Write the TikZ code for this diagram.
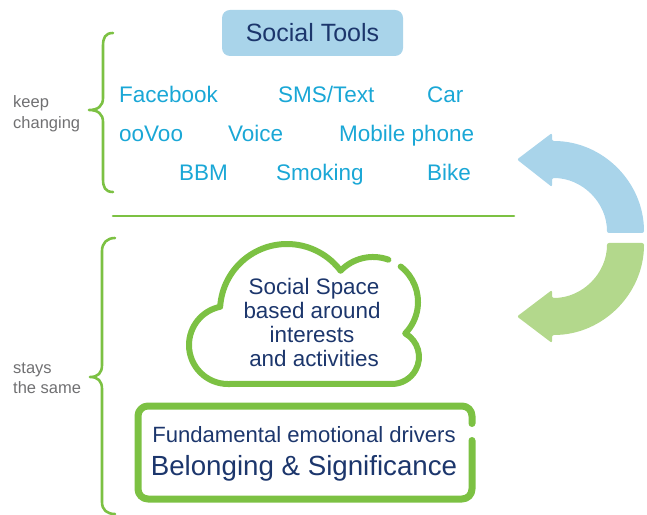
\documentclass[tikz,border=0pt]{standalone}
\usepackage{fontspec}
\setmainfont{Liberation Sans}
\definecolor{navyT}{RGB}{28,54,108}
\definecolor{cyanT}{RGB}{26,167,214}
\definecolor{grayT}{RGB}{112,112,114}
\definecolor{greenL}{RGB}{124,193,67}
\definecolor{lblue}{RGB}{169,212,234}
\definecolor{lgreen}{RGB}{179,216,140}
\begin{document}
\begin{tikzpicture}[x=1pt,y=1pt,
  tool/.style={anchor=base west,inner sep=0pt,text=cyanT,font=\fontsize{22.5}{27}\selectfont},
  side/.style={anchor=base west,inner sep=0pt,text=grayT,font=\fontsize{16.5}{20}\selectfont},
  navytext/.style={anchor=base,inner sep=0pt,text=navyT},
  greenline/.style={draw=greenL,line width=2.6pt,line cap=round,line join=round},
  shapeline/.style={draw=greenL,line cap=round,line join=round}]
\useasboundingbox (0,0) rectangle (647,514);
% title box
\node[fill=lblue,rounded corners=8pt,minimum width=181pt,minimum height=46pt,inner sep=0pt,
  text=navyT,font=\fontsize{25}{30}\selectfont] (tools) at (312.5,481) {Social Tools};
% tools
\node[tool] (fb) at (119,411) {Facebook};
\node[tool] (sms) at (278,411) {SMS/Text};
\node[tool] (car) at (427,411) {Car};
\node[tool] (oovoo) at (119,372) {ooVoo};
\node[tool] (voice) at (228,372) {Voice};
\node[tool] (mob) at (339,372) {Mobile phone};
\node[tool] (bbm) at (179,333) {BBM};
\node[tool] (smok) at (276,333) {Smoking};
\node[tool] (bike) at (427,333) {Bike};
% side labels
\node[side] (keep1) at (13,406) {keep};
\node[side] (keep2) at (13,385) {changing};
\node[side] (stay1) at (13,141) {stays};
\node[side] (stay2) at (13,121) {the same};
% braces
\draw[greenline] (113,481) .. controls (105,481) and (103,476) .. (103,468) -- (103,416)
  .. controls (103,408) and (98,404) .. (89,404) .. controls (98,404) and (103,400) .. (103,392)
  -- (103,335) .. controls (103,327) and (105,322) .. (113,322);
\draw[greenline] (115,276) .. controls (107,276) and (102,271) .. (102,263) -- (102,149)
  .. controls (102,141) and (98,137) .. (90,137) .. controls (98,137) and (102,133) .. (102,125)
  -- (102,12) .. controls (102,4) and (107,0) .. (115,0);
% separator
\coordinate (hl1) at (113,298);
\coordinate (hl2) at (514,298);
\draw[greenline] (hl1) -- (hl2);
% cloud
\draw[shapeline,line width=6pt] ([shift={(52:45)}]373,212) arc[start angle=52,end angle=-44.3,radius=45]
  arc[start angle=60.7,end angle=-90,radius=27] -- (228,130)
  arc[start angle=-90,end angle=-258.4,radius=39]
  arc[start angle=176.4,end angle=36.9,radius=67]
  arc[start angle=136.1,end angle=70,radius=45];
\node[navytext,font=\fontsize{22.4}{24}\selectfont] (c1) at (314,219) {Social Space};
\node[navytext,font=\fontsize{22.4}{24}\selectfont] (c2) at (312,195) {based around};
\node[navytext,font=\fontsize{22.4}{24}\selectfont] (c3) at (312,171) {interests};
\node[navytext,font=\fontsize{22.4}{24}\selectfont] (c4) at (314,147) {and activities};
% rectangle
\draw[shapeline,line width=7pt,rounded corners=10pt] (472,73.5) -- (472,15) -- (138,15) -- (138,108) -- (472,108) -- (472,90.5);
\node[navytext,font=\fontsize{22.1}{26}\selectfont] (fed) at (304,72) {Fundamental emotional drivers};
\node[navytext,font=\fontsize{27.7}{32}\selectfont] (bs) at (304,39) {Belonging \& Significance};
% circular arrows
\fill[lblue,rounded corners=2pt] (644,281) arc[start angle=0,end angle=90,radius=92] -- (552,381)
  -- (517,354.5) -- (552,327) -- (552,336) arc[start angle=90,end angle=0,radius=55] -- cycle;
\fill[lgreen,rounded corners=2pt] (644,271) arc[start angle=0,end angle=-90,radius=92] -- (552,171)
  -- (517,197.5) -- (552,224) -- (552,216) arc[start angle=-90,end angle=0,radius=55] -- cycle;
\end{tikzpicture}
\end{document}
